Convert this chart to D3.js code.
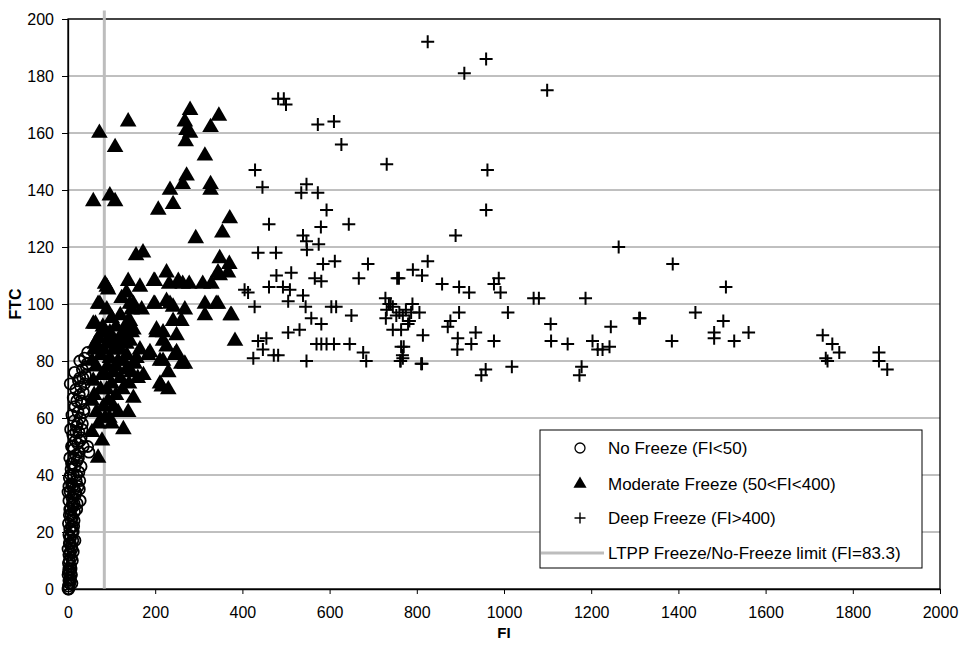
<!DOCTYPE html>
<html>
<head>
<meta charset="utf-8">
<script src="https://cdn.jsdelivr.net/npm/d3@7"></script>
<style>
  body { margin: 0; background: #fff; }
  text { font-family: "Liberation Sans", Arial, sans-serif; }
</style>
</head>
<body>
<svg width="961" height="645"></svg>
<script>
var svg = d3.select('svg');

// [FI, FTC] pairs
var noFreeze = [
  [0,0],[1,1],[3,2],[2,3],[5,4],[0,5],[4,6],[2,7],[6,8],[1,9],[3,10],[7,11],[2,12],[5,13],[0,14],
  [8,15],[3,16],[11,17],[16,17],[6,18],[2,19],[9,20],[4,21],[13,22],[1,23],[7,24],[10,25],[3,26],
  [15,27],[6,28],[12,29],[21,30],[2,31],[28,31],[9,32],[17,33],[5,34],[0,34],[14,35],[23,36],[8,37],
  [19,38],[27,38],[3,39],[12,40],[25,41],[7,42],[16,43],[30,43],[10,44],[21,45],[4,46],[18,47],[26,48],
  [48,48],[13,49],[45,50],[8,50],[22,51],[17,52],[30,53],[11,54],[25,55],[6,56],[19,57],[33,58],[14,59],
  [28,60],[9,61],[23,62],[37,63],[16,64],[31,65],[20,66],[12,67],[26,68],[35,69],[18,70],[5,72],[29,71],
  [24,73],[27,74],[40,75],[15,76],[33,77],[44,79],[38,81],[45,83],[2,0],[4,2],[6,3],[1,6],[8,5],[3,12],
  [9,14],[4,18],[12,20],[7,26],[10,30],[2,36],
  [20,40],[24,46],[28,52],[32,56],[22,58],[36,62],[30,66],[38,72],[34,74],[42,78],[27,80],[14,46],
  [18,55],[10,50],[26,35],[20,28],[14,24],[6,40],[11,36],[35,50],
  [9,2],[7,7],[10,10],[5,16],[12,13],[9,22],[14,30],[18,34],[4,28],[8,44]
];

var moderateFreeze = [
  [72,160],[108,155],[138,164],[58,136],[96,138],[108,136],[207,133],[234,140],[241,135],[272,145],
  [263,142],[268,164],[280,168],[272,161],[280,160],[270,157],[314,152],[327,162],[346,166],[327,142],
  [327,140],[293,123],[371,130],[354,125],[156,117],[172,118],[348,116],[370,114],[367,111],
  [85,107],[92,105],[138,108],[165,106],[197,108],[226,111],[232,107],[253,108],[263,107],[278,107],
  [309,107],[329,107],[344,111],
  [69,100],[89,98],[123,102],[134,104],[150,100],[146,98],[169,98],[197,100],[226,101],[241,99],
  [268,98],[314,100],[340,100],[375,96],
  [63,93],[62,86],[81,84],[96,90],[119,88],[138,94],[146,90],[134,86],[203,91],[218,90],[241,94],
  [249,89],[260,94],[314,96],[373,96],[383,87],[165,84],[184,82],[218,80],[249,83],[268,79],[211,72],
  [230,70],[230,76],[127,56],[138,62],[150,67],[69,46],
  [89,106],[199,108],[348,110],[73,100],[142,100],[199,100],[234,100],[344,100],[58,93],[77,90],
  [142,94],[203,90],[96,89],[142,87],[188,83],[211,80],[226,85],[245,82],[260,79],[218,87],[96,81],
  [127,80],[153,79],[173,75],[134,77],[104,76],[215,71],[104,64],[85,60],[134,92],[150,91],[119,84],
  [157,81],[55,80],[58,73],[89,70],[55,66],[81,64],[55,55],[65,78],[75,82],[85,75],[100,72],[110,68],
  [120,74],[95,60],[70,58],[78,52],[112,86],[125,90],[60,68],[90,78],[105,84],[140,72],[160,74],[115,80],
  [60,84],[70,88],[80,92],[100,95],[110,92],[120,96],[130,88],[90,86],[100,88],[110,78],[125,70],
  [135,82],[145,76],[115,62],[100,58],[92,66],[65,62],[75,70],[68,85],[78,75]
];

var deepFreeze = [
  [825,192],[959,186],[909,181],[1099,175],[731,149],[962,147],[959,133],[889,124],[1263,120],
  [1387,114],[825,115],[791,112],[759,109],[812,110],[858,107],[897,106],[920,104],[988,109],[977,107],
  [992,104],[1509,106],[728,102],[1068,102],[1080,102],[1187,102],[1439,97],[1009,97],[1310,95],
  [731,98],[745,99],[760,97],[775,98],[790,100],[806,97],[897,97],[729,95],[780,93],[877,94],[871,92],
  [745,91],[764,91],[814,89],[935,90],[894,88],[925,86],[977,87],[893,84],[770,85],[767,82],[762,80],
  [812,79],[958,77],[948,75],[1018,78],[1107,93],[1108,87],[1146,86],[1203,87],[1215,84],[1226,84],
  [1242,85],[1245,92],[1178,78],[1173,75],[1312,95],[1385,87],[1482,90],[1482,88],[1503,94],[1528,87],
  [1561,90],[1731,89],[1753,86],[1769,83],[1738,81],[1742,80],[1860,83],[1860,80],[1879,77],
  [482,172],[495,172],[500,170],[573,163],[610,164],[627,156],[429,147],[446,141],[535,139],[547,142],
  [573,139],[593,133],[461,128],[580,127],[644,128],[539,124],[547,122],[575,121],[548,119],[436,118],
  [477,118],[612,115],[585,114],[688,114],[755,109],[478,110],[512,111],[566,109],[581,108],[667,109],
  [461,106],[493,106],[509,105],[405,105],[413,104],[428,99],[505,101],[539,103],[545,99],[604,99],
  [615,99],[650,96],[558,95],[581,93],[505,90],[531,91],[436,87],[455,88],[447,84],[425,81],[472,82],
  [482,82],[547,80],[570,86],[581,86],[593,86],[610,86],[646,86],[677,83],[684,80],[764,85],[763,80],
  [740,100],[753,96],[768,96],[783,94],[736,100],[787,97],[768,81],[810,79]
];

var limitFI = 83.3;
var limitTop = 203;

var xTicks = [0, 200, 400, 600, 800, 1000, 1200, 1400, 1600, 1800, 2000];
var yTicks = [0, 20, 40, 60, 80, 100, 120, 140, 160, 180, 200];

var legendLabels = ['No Freeze (FI<50)', 'Moderate Freeze (50<FI<400)', 'Deep Freeze (FI>400)',
  'LTPP Freeze/No-Freeze limit (FI=83.3)'];

var plotL = 68, plotR = 940, plotT = 19, plotB = 589;

var x = d3.scaleLinear().domain([0, 2000]).range([plotL, plotR]);
var y = d3.scaleLinear().domain([0, 200]).range([plotB, plotT]);

// gridlines
svg.append('g').selectAll('line')
  .data(yTicks.slice(1))
  .enter()
  .append('line')
  .attr('x1', plotL).attr('x2', plotR)
  .attr('y1', function (d) { return y(d); })
  .attr('y2', function (d) { return y(d); })
  .attr('stroke', '#808080')
  .attr('stroke-width', 1);

// plot frame
svg.append('rect')
  .attr('x', plotL).attr('y', plotT)
  .attr('width', plotR - plotL).attr('height', plotB - plotT)
  .attr('fill', 'none')
  .attr('stroke', '#000')
  .attr('stroke-width', 1.3);

// freeze limit line
svg.append('line')
  .attr('x1', x(limitFI)).attr('x2', x(limitFI))
  .attr('y1', y(0)).attr('y2', y(limitTop))
  .attr('stroke', '#bdbdbd')
  .attr('stroke-width', 3);

var plusPath = 'M-6.5,0H6.5M0,-6.5V6.5';
var triPath = d3.symbol().type(d3.symbolTriangle).size(120)();

svg.append('g').selectAll('circle')
  .data(noFreeze)
  .enter()
  .append('circle')
  .attr('cx', function (d) { return x(d[0]); })
  .attr('cy', function (d) { return y(d[1]); })
  .attr('r', 5.5)
  .attr('fill', 'none')
  .attr('stroke', '#000')
  .attr('stroke-width', 1.8);

svg.append('g').selectAll('path')
  .data(moderateFreeze)
  .enter()
  .append('path')
  .attr('d', triPath)
  .attr('transform', function (d) { return 'translate(' + x(d[0]) + ',' + y(d[1]) + ')'; })
  .attr('fill', '#000');

svg.append('g').selectAll('path')
  .data(deepFreeze)
  .enter()
  .append('path')
  .attr('d', plusPath)
  .attr('transform', function (d) { return 'translate(' + x(d[0]) + ',' + y(d[1]) + ')'; })
  .attr('fill', 'none')
  .attr('stroke', '#000')
  .attr('stroke-width', 2);

// axes
var xAxis = svg.append('g')
  .attr('transform', 'translate(0,' + plotB + ')')
  .call(d3.axisBottom(x).tickValues(xTicks).tickFormat(d3.format('d'))
    .tickSize(5).tickSizeOuter(0).tickPadding(13));
var yAxis = svg.append('g')
  .attr('transform', 'translate(' + plotL + ',0)')
  .call(d3.axisLeft(y).tickValues(yTicks).tickFormat(d3.format('d'))
    .tickSize(6).tickSizeOuter(0).tickPadding(8));

[xAxis, yAxis].forEach(function (a) {
  a.select('.domain').attr('stroke', '#000').attr('stroke-width', 1.3);
  a.selectAll('.tick line').attr('stroke', '#000');
  a.selectAll('.tick text')
    .attr('fill', '#000')
    .style('font-size', '16px')
    .style('font-family', '"Liberation Sans", Arial, sans-serif');
});

svg.append('text')
  .attr('x', (plotL + plotR) / 2)
  .attr('y', 638)
  .attr('text-anchor', 'middle')
  .style('font-size', '15px')
  .style('font-weight', 'bold')
  .text('FI');

svg.append('text')
  .attr('transform', 'translate(21,' + ((plotT + plotB) / 2) + ') rotate(-90)')
  .attr('text-anchor', 'middle')
  .style('font-size', '16px')
  .style('font-weight', 'bold')
  .text('FTC');

// legend
var lg = svg.append('g');
lg.append('rect')
  .attr('x', 540).attr('y', 430)
  .attr('width', 382).attr('height', 138)
  .attr('fill', '#fff')
  .attr('stroke', '#000')
  .attr('stroke-width', 1);

var rowY = [448, 484, 518, 553];

lg.append('circle')
  .attr('cx', 580).attr('cy', rowY[0]).attr('r', 5)
  .attr('fill', 'none').attr('stroke', '#000').attr('stroke-width', 1.3);
lg.append('path')
  .attr('d', d3.symbol().type(d3.symbolTriangle).size(75)())
  .attr('transform', 'translate(580,' + rowY[1] + ')')
  .attr('fill', '#000');
lg.append('path')
  .attr('d', 'M-5.5,0H5.5M0,-5.5V5.5')
  .attr('transform', 'translate(580,' + rowY[2] + ')')
  .attr('stroke', '#000').attr('stroke-width', 1.4);
lg.append('line')
  .attr('x1', 541).attr('x2', 604)
  .attr('y1', rowY[3]).attr('y2', rowY[3])
  .attr('stroke', '#bdbdbd').attr('stroke-width', 3);

lg.selectAll('text.lab')
  .data(legendLabels)
  .enter()
  .append('text')
  .attr('class', 'lab')
  .attr('x', 608)
  .attr('y', function (d, i) { return rowY[i]; })
  .attr('dy', '0.35em')
  .style('font-size', '17px')
  .text(function (d) { return d; });
</script>
</body>
</html>
